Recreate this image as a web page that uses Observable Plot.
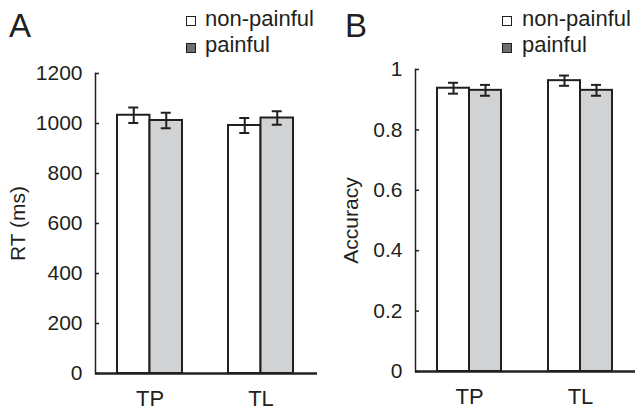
<!DOCTYPE html>
<html><head><meta charset="utf-8">
<script src="https://cdn.jsdelivr.net/npm/d3@7"></script>
<script src="https://cdn.jsdelivr.net/npm/@observablehq/plot@0.6"></script>
<style>
body{margin:0;background:#fff;}
#root{position:relative;width:635px;height:410px;overflow:hidden;font-family:"Liberation Sans",Arial,sans-serif;color:#231f20;}
.panel{position:absolute;top:0;}
.letter{position:absolute;font-size:33px;line-height:33px;}
.legtxt{position:absolute;font-size:22px;line-height:22px;white-space:nowrap;}
.sw{position:absolute;width:8px;height:8px;border:1px solid #231f20;}
</style>
</head><body>
<div id="root">
  <div class="letter" style="left:9px;top:9px;">A</div>
  <div class="letter" style="left:345px;top:9px;">B</div>
  <div class="sw" style="left:186px;top:16px;background:#fff;"></div>
  <div class="legtxt" style="left:205px;top:8px;">non-painful</div>
  <div class="sw" style="left:186px;top:43px;background:#6d6e71;"></div>
  <div class="legtxt" style="left:205px;top:34px;">painful</div>
  <div class="sw" style="left:502px;top:16px;background:#fff;"></div>
  <div class="legtxt" style="left:522px;top:8px;">non-painful</div>
  <div class="sw" style="left:502px;top:43px;background:#6d6e71;"></div>
  <div class="legtxt" style="left:522px;top:34px;">painful</div>
</div>
<script>
const groups = ["TP", "TL"];
const conditions = ["non-painful", "painful"];
const rtMean = [[1033, 1012], [992, 1022]];
const rtErr = [[31, 31], [30, 27]];
const accMean = [[0.938, 0.931], [0.963, 0.931]];
const accErr = [[0.018, 0.018], [0.017, 0.018]];
const rtTicks = [0, 200, 400, 600, 800, 1000, 1200];
const accTicks = [0, 0.2, 0.4, 0.6, 0.8, 1];
const accTickLabels = ["0", "0.2", "0.4", "0.6", "0.8", "1"];

const INK = "#231f20";
const fills = {"non-painful": "#ffffff", "painful": "#d1d2d4"};

function rowsOf(means, errs) {
  return groups.flatMap((g, i) => conditions.map((c, j) => ({group: g, cond: c, mean: means[i][j], err: errs[i][j]})));
}

function buildPanel(cfg, bw) {
  const rows = rowsOf(cfg.means, cfg.errs);
  const np = rows.filter(d => d.cond === "non-painful");
  const pf = rows.filter(d => d.cond === "painful");
  const half = bw / 2, q = bw / 4, cap = 5;
  return Plot.plot({
    width: cfg.width, height: 410,
    marginLeft: cfg.ml, marginRight: cfg.mr, marginTop: cfg.mt, marginBottom: cfg.mb,
    style: {fontFamily: '"Liberation Sans", Arial, sans-serif', fontSize: "21px", color: INK, background: "transparent", overflow: "visible"},
    x: {domain: groups, paddingInner: cfg.pi, paddingOuter: cfg.po, align: cfg.align, label: null},
    y: {domain: cfg.domain, label: null},
    marks: [
      Plot.barY(np, {x: "group", y: "mean", fill: d => fills[d.cond], stroke: INK, strokeWidth: 2, insetRight: half}),
      Plot.barY(pf, {x: "group", y: "mean", fill: d => fills[d.cond], stroke: INK, strokeWidth: 2, insetLeft: half}),
      Plot.ruleX(np, {x: "group", y1: d => d.mean - d.err, y2: d => d.mean + d.err, dx: -q, stroke: INK, strokeWidth: 2}),
      Plot.ruleX(pf, {x: "group", y1: d => d.mean - d.err, y2: d => d.mean + d.err, dx: q, stroke: INK, strokeWidth: 2}),
      Plot.tickY(np, {x: "group", y: d => d.mean - d.err, insetLeft: q - cap, insetRight: bw - q - cap, stroke: INK, strokeWidth: 2}),
      Plot.tickY(np, {x: "group", y: d => d.mean + d.err, insetLeft: q - cap, insetRight: bw - q - cap, stroke: INK, strokeWidth: 2}),
      Plot.tickY(pf, {x: "group", y: d => d.mean - d.err, insetLeft: half + q - cap, insetRight: q - cap, stroke: INK, strokeWidth: 2}),
      Plot.tickY(pf, {x: "group", y: d => d.mean + d.err, insetLeft: half + q - cap, insetRight: q - cap, stroke: INK, strokeWidth: 2}),
      Plot.frame({anchor: "left", stroke: INK, strokeWidth: 1.5}),
      Plot.ruleY([0], {stroke: INK, strokeWidth: 2.5}),
      Plot.axisY({ticks: cfg.ticks, tickFormat: cfg.tickFormat, tickSize: -4, tickPadding: 17, fontSize: 21, color: INK, strokeWidth: 1.5,
        label: cfg.label, labelArrow: false, labelAnchor: "center", labelOffset: cfg.labelOffset}),
      Plot.axisX({tickSize: 0, tickPadding: 17, fontSize: 22, color: INK, label: null})
    ]
  });
}

function panel(cfg) {
  const probe = buildPanel(cfg, 60);
  const bw = probe.scale("x").bandwidth;
  const svg = buildPanel(cfg, bw);
  const wrap = document.createElement("div");
  wrap.className = "panel";
  wrap.style.left = cfg.left + "px";
  wrap.appendChild(svg);
  document.getElementById("root").insertBefore(wrap, document.getElementById("root").firstChild);
}

panel({
  left: 0, width: 330, ml: 95, mr: 13, mt: 73, mb: 37,
  pi: 0.412, po: 0.205, align: 0.475,
  domain: [0, 1200], ticks: rtTicks, tickFormat: d => String(d),
  means: rtMean, errs: rtErr, label: "RT (ms)", labelOffset: 85
});
panel({
  left: 320, width: 315, ml: 95, mr: 0, mt: 69, mb: 39,
  pi: 0.422, po: 0.2, align: 0.5,
  domain: [0, 1], ticks: accTicks, tickFormat: d => accTickLabels[accTicks.indexOf(d)],
  means: accMean, errs: accErr, label: "Accuracy", labelOffset: 72
});
</script>
</body></html>
